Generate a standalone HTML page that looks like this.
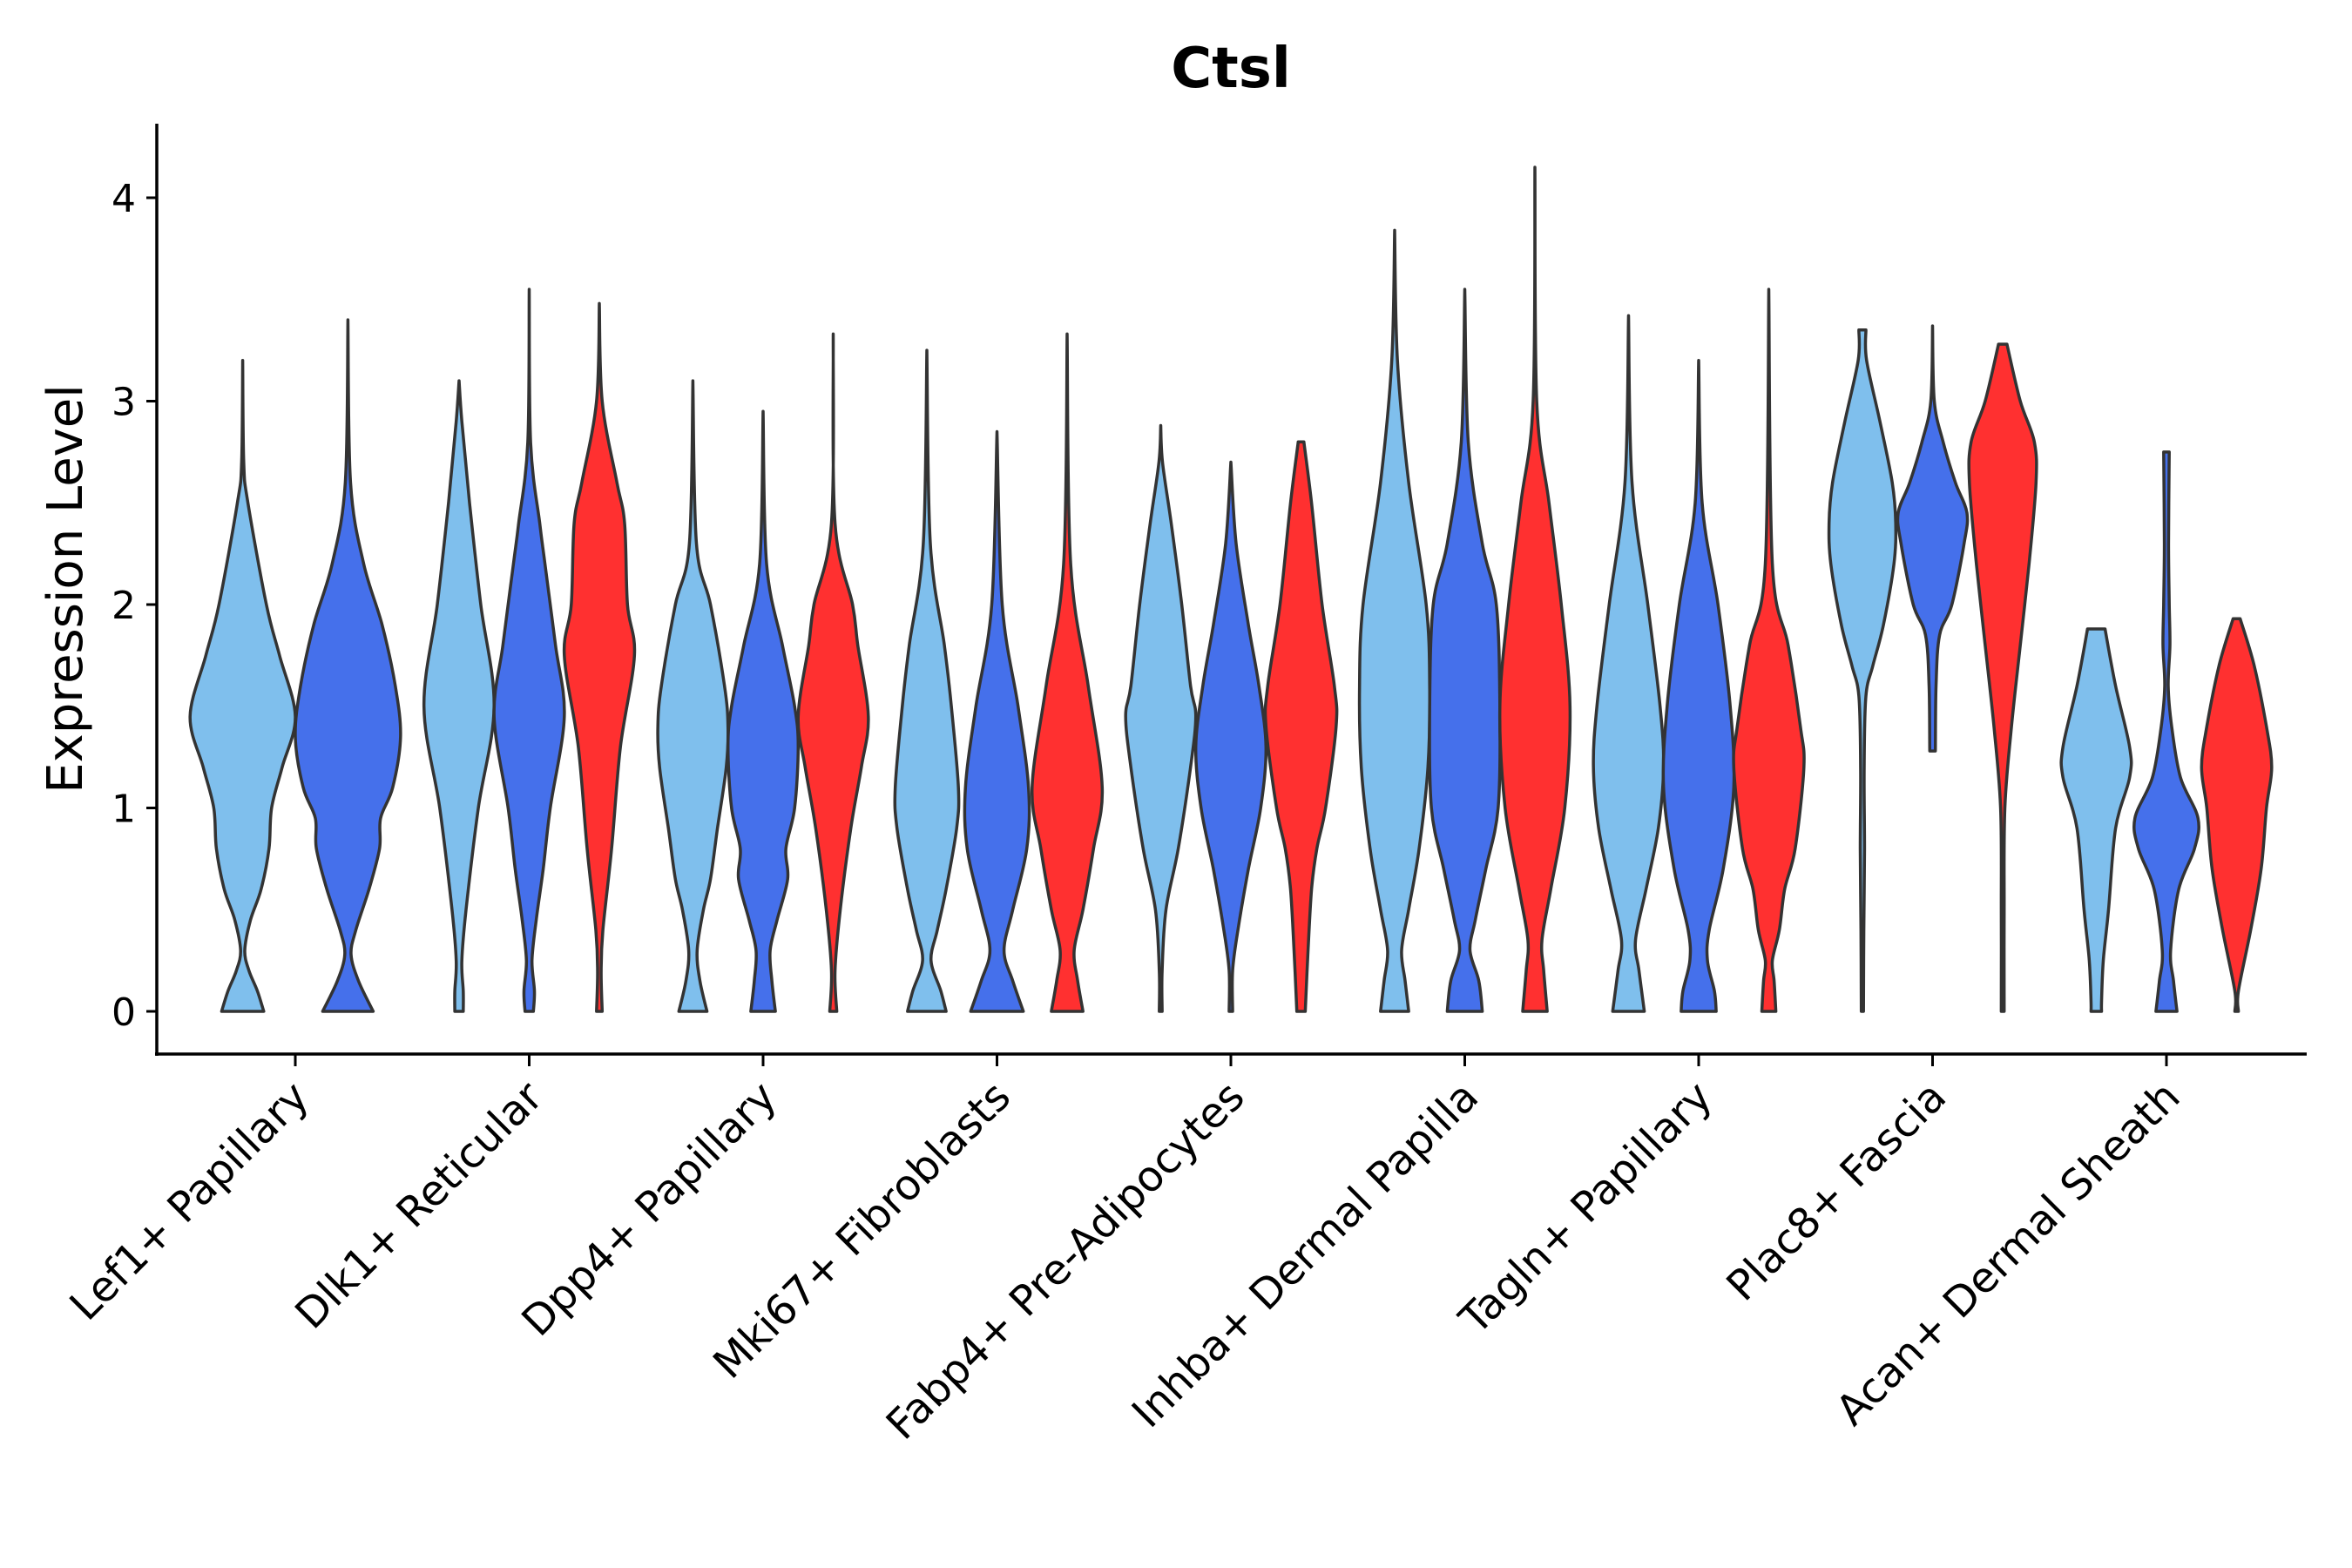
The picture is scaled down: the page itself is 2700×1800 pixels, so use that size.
<!DOCTYPE html>
<html><head><meta charset="utf-8"><style>
html,body{margin:0;padding:0;background:#fff;}
svg{display:block;font-family:"DejaVu Sans","Liberation Sans",sans-serif;}
</style></head><body>
<svg id="chart" width="2700" height="1800" viewBox="0 0 2700 1800" xmlns="http://www.w3.org/2000/svg">
<rect width="2700" height="1800" fill="#fff"/>
<text x="1413" y="100" text-anchor="middle" font-size="64" font-weight="bold">Ctsl</text>
<text transform="translate(94,676) rotate(-90)" text-anchor="middle" font-size="56">Expression Level</text>
<g id="violins"></g>
<g id="axes"></g>
</svg>
<script>
const categories = ["Lef1+ Papillary","Dlk1+ Reticular","Dpp4+ Papillary","Mki67+ Fibroblasts","Fabp4+ Pre-Adipocytes","Inhba+ Dermal Papilla","Tagln+ Papillary","Plac8+ Fascia","Acan+ Dermal Sheath"];
const conditions = ["light","blue","red"];
const yTicks = [0,1,2,3,4];
const lef1Light = [[3.2,0],[2.7,0.02],[2.5,0.1],[2.0,0.45],[1.75,0.7],[1.45,1.0],[1.2,0.75],[1.0,0.55],[0.8,0.5],[0.6,0.35],[0.45,0.15],[0.3,0.04],[0.2,0.12],[0.1,0.28],[0,0.4]];
const lef1Blue = [[3.4,0],[2.6,0.05],[2.2,0.3],[1.9,0.65],[1.6,0.9],[1.35,1.0],[1.1,0.85],[0.95,0.62],[0.8,0.6],[0.6,0.4],[0.4,0.15],[0.28,0.06],[0.15,0.2],[0,0.48]];
const dlk1Light = [[3.1,0],[2.9,0.08],[2.5,0.3],[2.0,0.62],[1.5,1.0],[1.0,0.55],[0.5,0.2],[0.25,0.08],[0.1,0.12],[0,0.12]];
const dlk1Blue = [[3.55,0],[2.8,0.04],[2.4,0.3],[2.2,0.45],[1.8,0.75],[1.45,1.0],[1.0,0.6],[0.7,0.4],[0.45,0.2],[0.25,0.08],[0.1,0.15],[0,0.12]];
const dlk1Red = [[3.48,0],[3.0,0.08],[2.6,0.5],[2.4,0.72],[2.0,0.8],[1.75,1.0],[1.3,0.6],[0.8,0.35],[0.4,0.1],[0.2,0.05],[0,0.08]];
const dpp4Light = [[3.1,0],[2.3,0.1],[2.0,0.5],[1.6,0.9],[1.4,1.0],[1.2,0.95],[0.9,0.7],[0.65,0.5],[0.5,0.3],[0.3,0.12],[0.15,0.2],[0,0.4]];
const dpp4Blue = [[2.95,0],[2.2,0.1],[1.8,0.55],[1.5,0.9],[1.3,1.0],[1.0,0.9],[0.8,0.65],[0.65,0.7],[0.45,0.4],[0.3,0.2],[0.15,0.25],[0,0.35]];
const dpp4Red = [[3.33,0],[2.4,0.05],[2.0,0.55],[1.8,0.7],[1.45,1.0],[1.2,0.8],[0.9,0.5],[0.5,0.2],[0.2,0.05],[0,0.1]];
const mki67Light = [[3.25,0],[2.3,0.1],[1.8,0.5],[1.5,0.7],[1.1,0.9],[0.9,0.85],[0.6,0.55],[0.4,0.3],[0.25,0.12],[0.1,0.4],[0,0.55]];
const mki67Blue = [[2.85,0],[2.0,0.15],[1.5,0.6],[1.1,0.9],[0.8,0.85],[0.5,0.45],[0.3,0.2],[0.15,0.45],[0,0.75]];
const mki67Red = [[3.33,0],[2.2,0.1],[1.6,0.6],[1.1,1.0],[0.8,0.75],[0.5,0.45],[0.3,0.2],[0.15,0.3],[0,0.45]];
const fabp4Light = [[2.88,0],[2.7,0.05],[2.4,0.3],[2.0,0.6],[1.6,0.85],[1.45,1.0],[1.2,0.85],[0.8,0.5],[0.5,0.15],[0.2,0.04],[0,0.04]];
const fabp4Blue = [[2.7,0],[2.3,0.15],[1.9,0.5],[1.6,0.8],[1.3,1.0],[1.0,0.85],[0.7,0.5],[0.4,0.2],[0.2,0.05],[0,0.05]];
const fabp4Red = [[2.8,0.08],[2.5,0.3],[2.0,0.6],[1.6,0.95],[1.4,1.0],[1.0,0.7],[0.8,0.45],[0.6,0.3],[0.3,0.2],[0,0.12]];
const inhbaLight = [[3.84,0],[3.2,0.08],[2.6,0.4],[2.0,0.9],[1.6,1.0],[1.2,0.95],[0.8,0.7],[0.5,0.4],[0.3,0.2],[0.15,0.3],[0,0.4]];
const inhbaBlue = [[3.55,0],[2.8,0.1],[2.3,0.5],[2.0,0.9],[1.5,1.0],[1.0,0.95],[0.7,0.6],[0.45,0.3],[0.3,0.15],[0.15,0.4],[0,0.5]];
const inhbaRed = [[4.15,0],[3.0,0.05],[2.5,0.4],[2.0,0.75],[1.5,1.0],[1.0,0.85],[0.6,0.45],[0.35,0.2],[0.2,0.25],[0,0.35]];
const taglnLight = [[3.42,0],[2.6,0.1],[2.0,0.55],[1.5,0.9],[1.2,1.0],[0.9,0.85],[0.6,0.5],[0.35,0.2],[0.2,0.3],[0,0.45]];
const taglnBlue = [[3.2,0],[2.5,0.1],[2.0,0.55],[1.5,0.9],[1.1,1.0],[0.7,0.7],[0.4,0.3],[0.25,0.25],[0.1,0.45],[0,0.5]];
const taglnRed = [[3.55,0],[2.2,0.1],[1.8,0.55],[1.4,0.9],[1.2,1.0],[0.8,0.75],[0.6,0.45],[0.4,0.3],[0.25,0.1],[0.15,0.15],[0,0.2]];
const plac8Light = [[3.35,0.1],[3.2,0.12],[2.9,0.5],[2.6,0.85],[2.4,0.95],[2.2,0.9],[1.9,0.6],[1.7,0.3],[1.55,0.1],[1.2,0.05],[0.8,0.06],[0.4,0.04],[0,0.03]];
const plac8Blue = [[3.37,0],[3.0,0.05],[2.8,0.3],[2.6,0.65],[2.45,0.98],[2.3,0.9],[2.0,0.55],[1.85,0.2],[1.6,0.1],[1.28,0.08]];
const plac8Red = [[3.28,0.12],[3.0,0.5],[2.8,0.9],[2.6,0.95],[2.2,0.75],[1.8,0.5],[1.4,0.25],[1.0,0.06],[0.5,0.04],[0,0.04]];
const acanLight = [[1.88,0.25],[1.6,0.55],[1.3,0.95],[1.15,0.95],[0.9,0.55],[0.5,0.35],[0.25,0.2],[0.05,0.15],[0,0.15]];
const acanBlue = [[2.75,0.08],[2.3,0.06],[2.0,0.08],[1.8,0.1],[1.6,0.05],[1.4,0.15],[1.15,0.4],[0.95,0.9],[0.8,0.8],[0.6,0.35],[0.3,0.12],[0.15,0.2],[0,0.3]];
const acanRed = [[1.93,0.1],[1.7,0.5],[1.4,0.85],[1.2,1.0],[1.0,0.85],[0.7,0.7],[0.4,0.4],[0.1,0.05],[0,0.05]];
const violinCats = [0,0,1,1,1,2,2,2,3,3,3,4,4,4,5,5,5,6,6,6,7,7,7,8,8,8];
const violinConds = ["light","blue","light","blue","red","light","blue","red","light","blue","red","light","blue","red","light","blue","red","light","blue","red","light","blue","red","light","blue","red"];
const violinProfiles = [lef1Light,lef1Blue,dlk1Light,dlk1Blue,dlk1Red,dpp4Light,dpp4Blue,dpp4Red,mki67Light,mki67Blue,mki67Red,fabp4Light,fabp4Blue,fabp4Red,inhbaLight,inhbaBlue,inhbaRed,taglnLight,taglnBlue,taglnRed,plac8Light,plac8Blue,plac8Red,acanLight,acanBlue,acanRed];

const NS = "http://www.w3.org/2000/svg";
const colors = {light:"#7FBFED", blue:"#4570EB", red:"#FF3030"};
const X0 = 180, X1 = 2648, YB = 1210, YT = 142;
const xFirst = 339, xStep = 268.5;
function xScale(i){ return xFirst + i*xStep; }
function yScale(v){ return 1161 - 233.5*v; }

function catmull(pts){
  let d = "";
  for(let i=0;i<pts.length-1;i++){
    const p0=pts[Math.max(i-1,0)], p1=pts[i], p2=pts[i+1], p3=pts[Math.min(i+2,pts.length-1)];
    const c1=[p1[0]+(p2[0]-p0[0])/6, p1[1]+(p2[1]-p0[1])/6];
    const c2=[p2[0]-(p3[0]-p1[0])/6, p2[1]-(p3[1]-p1[1])/6];
    d += ` C${c1[0].toFixed(1)},${c1[1].toFixed(1)} ${c2[0].toFixed(1)},${c2[1].toFixed(1)} ${p2[0].toFixed(1)},${p2[1].toFixed(1)}`;
  }
  return d;
}

const vg = document.getElementById("violins");
const counts = categories.map((c,i)=>violinCats.filter(k=>k===i).length);
violinProfiles.forEach((prof,vi)=>{
  const ci = violinCats[vi];
  const n = counts[ci];
  const k = violinCats.slice(0,vi).filter(c=>c===ci).length;
  const slot = 0.9*xStep/n;
  const cx = xScale(ci) - 0.45*xStep + slot*(k+0.5);
  const half = slot/2;
  const right = prof.map(p=>[cx + p[1]*half, yScale(p[0])]);
  const left = prof.slice().reverse().map(p=>[cx - p[1]*half, yScale(p[0])]);
  let d = `M${right[0][0].toFixed(1)},${right[0][1].toFixed(1)}` + catmull(right);
  d += ` L${left[0][0].toFixed(1)},${left[0][1].toFixed(1)}` + catmull(left) + " Z";
  const path = document.createElementNS(NS,"path");
  path.setAttribute("d", d);
  path.setAttribute("fill", colors[violinConds[vi]]);
  path.setAttribute("stroke", "#333");
  path.setAttribute("stroke-width", "3.5");
  path.setAttribute("stroke-linejoin", "round");
  
  
  vg.appendChild(path);
});

const ag = document.getElementById("axes");
function line(x1,y1,x2,y2,w,name){
  const l = document.createElementNS(NS,"line");
  l.setAttribute("x1",x1); l.setAttribute("y1",y1); l.setAttribute("x2",x2); l.setAttribute("y2",y2);
  l.setAttribute("stroke","#000"); l.setAttribute("stroke-width",w);
  
  
  ag.appendChild(l);
}
line(X0,YT,X0,YB+2,3.5,"y-axis-line");
line(X0-2,YB,X1,YB,3.5,"x-axis-line");
yTicks.forEach(t=>{
  const y = yScale(t);
  line(X0-12,y,X0,y,3,"y-tick");
  const tx = document.createElementNS(NS,"text");
  tx.setAttribute("x", X0-24); tx.setAttribute("y", y+16);
  tx.setAttribute("text-anchor","end"); tx.setAttribute("font-size","44");
  tx.textContent = t;
  
  
  ag.appendChild(tx);
});
categories.forEach((c,i)=>{
  const x = xScale(i);
  line(x,YB,x,YB+14,3,"x-tick");
  const tx = document.createElementNS(NS,"text");
  tx.setAttribute("transform", `translate(${x+18},${YB+52}) rotate(-45)`);
  tx.setAttribute("text-anchor","end"); tx.setAttribute("font-size","48");
  tx.textContent = c;
  
  
  ag.appendChild(tx);
});
</script>
</body></html>
